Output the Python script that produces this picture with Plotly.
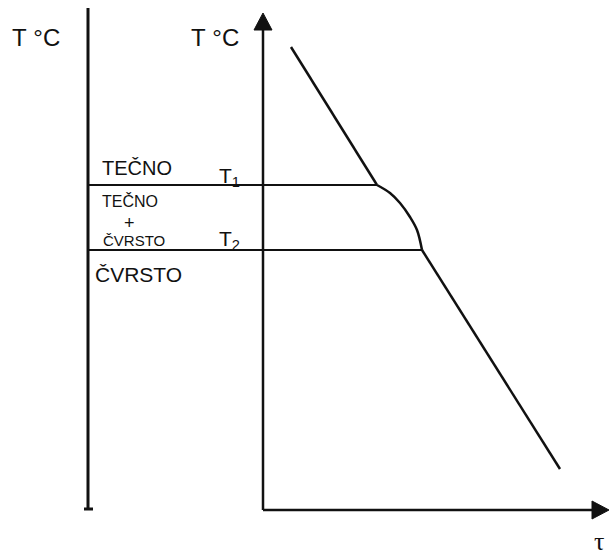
import plotly.graph_objects as go

# Cooling curve of an alloy: temperature T versus time tau (arbitrary units)
T1 = 325          # liquidus temperature (start of solidification)
T2 = 260          # solidus temperature (end of solidification)

# liquid cooling segment (above T1)
liquid_tau = [28, 114]
liquid_T = [463, T1]
# solidification interval (between T1 and T2), bends away from a straight line
mushy_tau = [114, 127, 137, 147, 154, 159]
mushy_T = [T1, 317, 307, 293, 280, T2]
# solid cooling segment (below T2)
solid_tau = [159, 297]
solid_T = [T2, 41]

# phase column drawn to the left of the time axis
column_tau = -175
column_top = 502
tau_max = 346
T_max = 497

# arrowhead size (half width, length) in axis units
HEAD_W, HEAD_L = 9, 17

INK = "#111111"
FONT = "Liberation Sans"

fig = go.Figure()

def line(x, y, width=2.5, shape="linear"):
    fig.add_trace(go.Scatter(x=x, y=y, mode="lines",
                             line=dict(color=INK, width=width, shape=shape),
                             hoverinfo="skip", showlegend=False))

def head(x, y):
    fig.add_trace(go.Scatter(x=x, y=y, mode="lines", fill="toself",
                             fillcolor=INK, line=dict(color=INK, width=1),
                             hoverinfo="skip", showlegend=False))

# phase column: vertical temperature line with a small foot
line([column_tau, column_tau], [0, column_top], width=3)
line([column_tau - 4, column_tau + 5], [1, 1], width=3)

# isotherms T1 and T2 running from the column to the cooling curve
line([column_tau, liquid_tau[-1]], [T1, T1], width=1.8)
line([column_tau, solid_tau[0]], [T2, T2], width=1.8)

# cooling curve
line(liquid_tau, liquid_T, width=2.5)
line(mushy_tau, mushy_T, width=2.5, shape="spline")
line(solid_tau, solid_T, width=2.5)

# temperature and time axes with filled arrowheads
line([0, 0], [0, T_max - HEAD_L], width=2.5)
head([0, -HEAD_W, HEAD_W, 0], [T_max, T_max - HEAD_L, T_max - HEAD_L, T_max])
line([0, tau_max - HEAD_L], [0, 0], width=2.5)
head([tau_max, tau_max - HEAD_L, tau_max - HEAD_L, tau_max], [0, HEAD_W, -HEAD_W, 0])

annotations = []

def label(text, x, y, size, xanchor="center", family=FONT):
    annotations.append(dict(x=x, y=y, xref="x", yref="y", text=text,
                            showarrow=False, xanchor=xanchor, yanchor="middle",
                            font=dict(family=family, size=size, color=INK)))

label("T\u00a0°C", -227, 473, 24)
label("T\u00a0°C", -48, 473, 24)
label("TEČNO", -163, 342, 20, xanchor="left")
label("T<sub>1</sub>", -46, 333, 21, xanchor="left")
label("TEČNO", -163, 309, 16, xanchor="left")
label("+", -134, 287, 18)
label("ČVRSTO", -162, 270, 15, xanchor="left")
label("T<sub>2</sub>", -46, 270, 21, xanchor="left")
label("ČVRSTO", -170, 236, 21, xanchor="left")
label("τ", 336, -31, 26, family="Liberation Serif")

fig.update_layout(
    width=609, height=560,
    margin=dict(l=0, r=0, t=0, b=0),
    paper_bgcolor="white", plot_bgcolor="white",
    xaxis=dict(range=[-263, 346], visible=False, fixedrange=True),
    yaxis=dict(range=[-50, 510], visible=False, fixedrange=True),
    annotations=annotations,
    showlegend=False,
)

fig.write_html("out.html")
